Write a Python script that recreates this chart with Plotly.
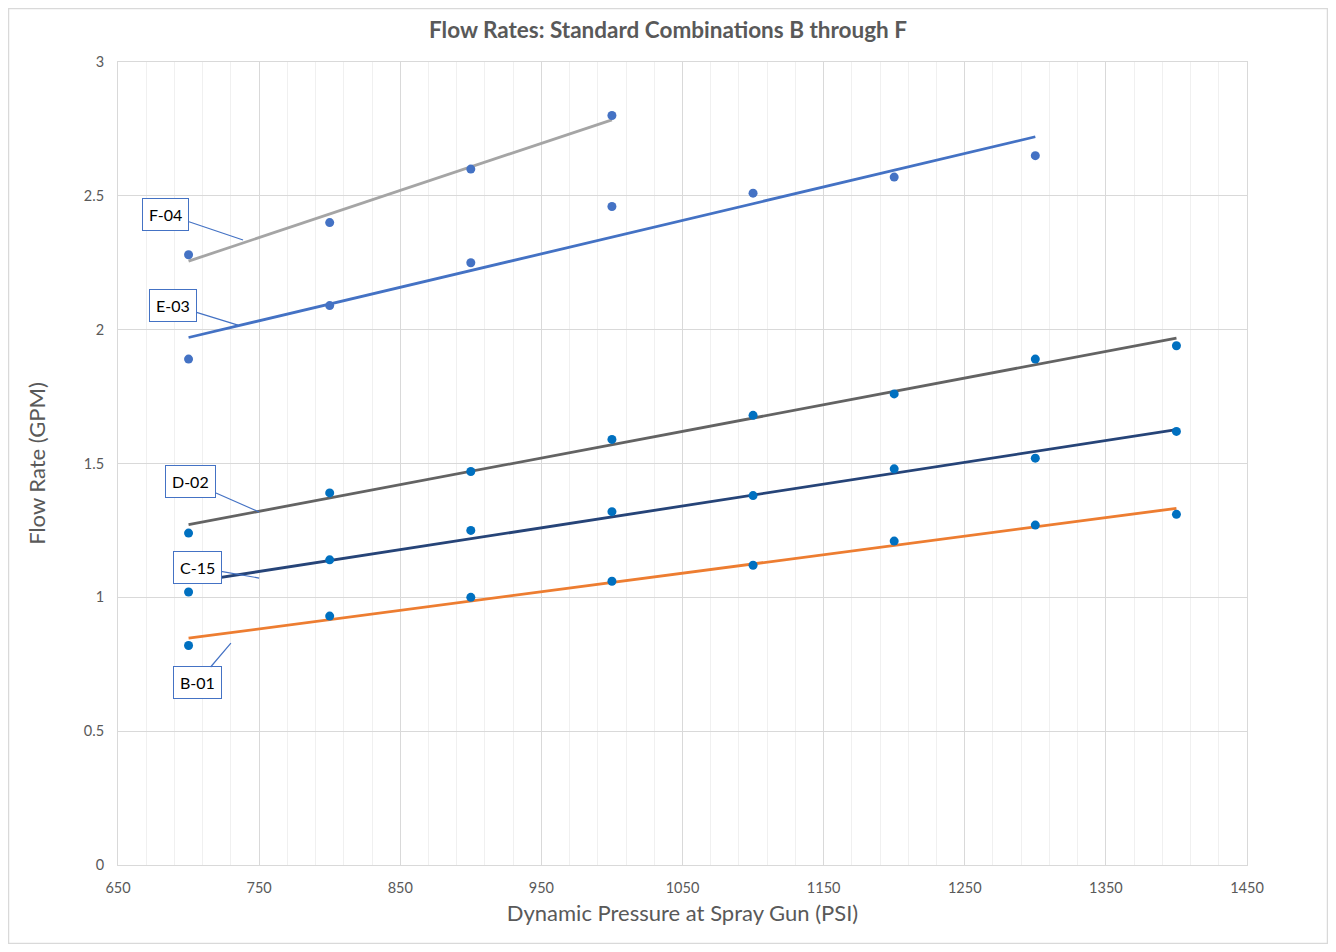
import numpy as np
import plotly.graph_objects as go

# pressure readings (PSI)
pressure = [700, 800, 900, 1000, 1100, 1200, 1300, 1400]

# flow rates (GPM) read per combination
b01 = [0.82, 0.93, 1.00, 1.06, 1.12, 1.21, 1.27, 1.31]
c15 = [1.02, 1.14, 1.25, 1.32, 1.38, 1.48, 1.52, 1.62]
d02 = [1.24, 1.39, 1.47, 1.59, 1.68, 1.76, 1.89, 1.94]
e03 = [1.89, 2.09, 2.25, 2.46, 2.51, 2.57, 2.65]
f04 = [2.28, 2.40, 2.60, 2.80]

series_names = ["B-01", "C-15", "D-02", "E-03", "F-04"]
series_values = [b01, c15, d02, e03, f04]
trend_colors = ["#ED7D31", "#264478", "#636363", "#4472C4", "#A5A5A5"]
marker_colors = ["#0070C0", "#0070C0", "#0070C0", "#4472C4", "#4472C4"]

# callout placement: (label x, label y, pointer x, pointer y) in data units
callouts = {
    "F-04": (684, 2.432, 738.6, 2.335),
    "E-03": (689, 2.092, 735, 2.017),
    "D-02": (701.7, 1.431, 750, 1.319),
    "C-15": (706, 1.113, 750, 1.072),
    "B-01": (706, 0.680, 730, 0.829),
}

GREY = "#595959"
FONT = "Lato, Open Sans, sans-serif"

# figure sits 8px inside the page (body margin)
W, H = 1320, 936
L, R, T, B = 110, 81, 54, 79
PW, PH = W - L - R, H - T - B

fig = go.Figure()

for name, vals, tc, mc in zip(series_names, series_values, trend_colors, marker_colors):
    xs = np.array(pressure[:len(vals)], dtype=float)
    ys = np.array(vals, dtype=float)
    # linear trendline like Excel
    slope, icpt = np.polyfit(xs, ys, 1)
    tx = np.array([xs.min(), xs.max()])
    fig.add_trace(go.Scatter(x=tx, y=slope * tx + icpt, mode="lines",
                             line=dict(color=tc, width=2.8), name=name + " trend",
                             showlegend=False, hoverinfo="skip"))
    fig.add_trace(go.Scatter(x=xs, y=ys, mode="markers", name=name,
                             marker=dict(color=mc, size=9), showlegend=False))

for name, (lx, ly, px, py) in callouts.items():
    fig.add_annotation(x=px, y=py, ax=lx, ay=ly, xref="x", yref="y",
                       axref="x", ayref="y", text=name, showarrow=True,
                       arrowhead=0, arrowwidth=1.2, arrowcolor="#4472C4",
                       font=dict(family=FONT, size=16, color="#000000"),
                       bgcolor="white", bordercolor="#4472C4", borderwidth=1,
                       borderpad=6)

# outer chart border along the figure edge
fig.add_shape(type="rect", xref="paper", yref="paper",
              x0=(-L + 0.5) / PW, x1=(PW + R - 0.5) / PW,
              y0=(-B + 0.5) / PH, y1=(PH + T - 0.5) / PH,
              line=dict(color="#D9D9D9", width=1.5), layer="below")

fig.update_layout(
    width=W, height=H,
    margin=dict(l=L, r=R, t=T, b=B),
    paper_bgcolor="white", plot_bgcolor="white",
    font=dict(family=FONT, color=GREY),
    title=dict(text="<b>Flow Rates: Standard Combinations B through F</b>",
               x=0.5, xanchor="center", y=1 - 22 / H, yanchor="middle",
               font=dict(size=22.5, color=GREY, family=FONT)),
)

fig.update_xaxes(range=[650, 1450], tick0=650, dtick=100,
                 showgrid=True, gridcolor="#D9D9D9", gridwidth=1,
                 minor=dict(tick0=650, dtick=20, showgrid=True,
                            gridcolor="#F0F0F0", gridwidth=1),
                 showline=True, linecolor="#D9D9D9", linewidth=1, mirror=True,
                 zeroline=False, ticks="outside", ticklen=10, tickcolor="rgba(0,0,0,0)",
                 tickfont=dict(size=14.5, color=GREY),
                 title=dict(text="Dynamic Pressure at Spray Gun (PSI)", standoff=10,
                            font=dict(size=22, color=GREY)))

fig.update_yaxes(range=[0, 3], dtick=0.5,
                 showgrid=True, gridcolor="#D9D9D9", gridwidth=1,
                 showline=True, linecolor="#D9D9D9", linewidth=1, mirror=True,
                 zeroline=False, ticks="outside", ticklen=10, tickcolor="rgba(0,0,0,0)",
                 tickfont=dict(size=14.5, color=GREY),
                 title=dict(text="Flow Rate (GPM)", standoff=32,
                            font=dict(size=22, color=GREY)))

fig.write_html("out.html")
